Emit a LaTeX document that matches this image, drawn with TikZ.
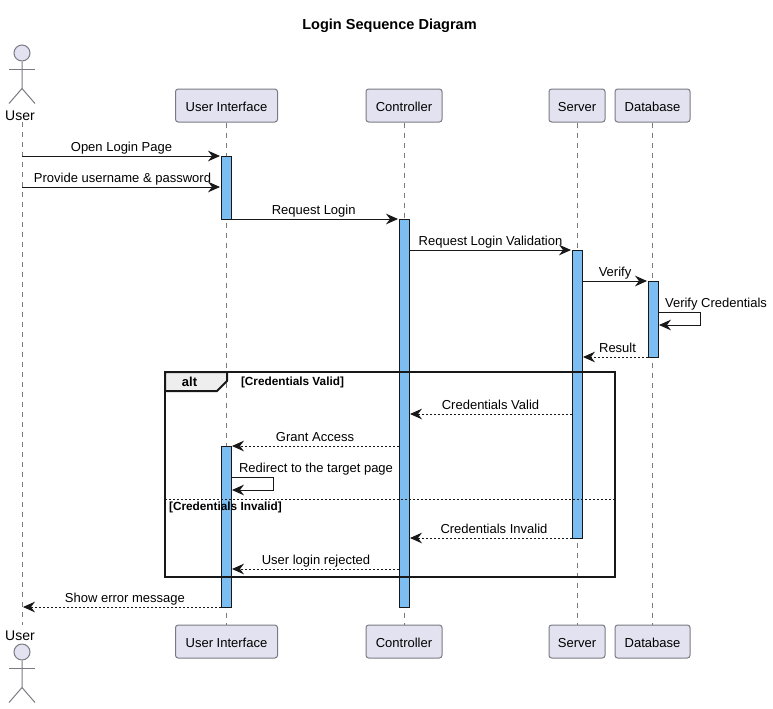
\documentclass[tikz,border=0pt]{standalone}
\usepackage{fontspec}
\setmainfont{Liberation Sans}
\usetikzlibrary{arrows.meta,positioning}

\definecolor{partfill}{HTML}{E2E2F0}
\definecolor{partline}{HTML}{7A7A84}
\definecolor{barfill}{HTML}{7CBEF2}
\definecolor{inkline}{HTML}{181818}
\definecolor{tabfill}{HTML}{EEEEEE}

\begin{document}
\begin{tikzpicture}[
    x=0.75pt, y=-0.75pt,
    participant/.style={draw=partline, fill=partfill, rectangle, rounded corners=2pt, line width=0.75pt,
      minimum height=24.75pt, inner sep=0pt, text height=9.5pt, text depth=1pt, font=\fontsize{9.75}{12}\selectfont},
    actorname/.style={inner sep=0pt, font=\fontsize{10.5}{12}\selectfont},
    head/.style={draw=partline, fill=partfill, circle, minimum size=12pt, inner sep=0pt, line width=0.75pt},
    limb/.style={draw=partline, line width=0.75pt},
    lifeline/.style={draw=partline, line width=0.75pt, dash pattern=on 3.75pt off 3.75pt},
    bar/.style={draw=inkline, fill=barfill, rectangle, line width=0.75pt, minimum width=7.5pt,
      minimum height=#1*0.75pt, inner sep=0pt, outer sep=0pt},
    arr/.style={-{Stealth[length=9pt, width=8pt, inset=3pt]}, draw=inkline, line width=0.75pt, shorten >=0.75pt},
    ret/.style={arr, dash pattern=on 1.5pt off 1.5pt},
    lbl/.style={font=\fontsize{9.75}{12}\selectfont, inner sep=0pt, anchor=base, yshift=3.75pt},
    frame/.style={draw=inkline, rectangle, line width=1.5pt, inner sep=0pt, outer sep=0pt},
    guard/.style={font=\bfseries\fontsize{8.85}{10}\selectfont, inner sep=0pt},
  ]
  \useasboundingbox (0,0) rectangle (773,708);

  % Title
  \node[font=\bfseries\fontsize{10.9}{12}\selectfont, inner sep=0pt] (title) at (389.5,26) {Login Sequence Diagram};

  % Participants, top row
  \node[actorname] (userTop) at (20,115.5) {User};
  \node[participant, minimum width=76.5pt] (uiTop) at (226.5,105.5) {User Interface};
  \node[participant, minimum width=57pt] (ctrlTop) at (404,105.5) {Controller};
  \node[participant, minimum width=42pt] (srvTop) at (577,105.5) {Server};
  \node[participant, minimum width=56.25pt] (dbTop) at (652.5,105.5) {Database};

  % Participants, bottom row
  \node[actorname] (userBot) at (20,635.5) {User};
  \node[participant, minimum width=76.5pt] (uiBot) at (226.5,641.5) {User Interface};
  \node[participant, minimum width=57pt] (ctrlBot) at (404,641.5) {Controller};
  \node[participant, minimum width=42pt] (srvBot) at (577,641.5) {Server};
  \node[participant, minimum width=56.25pt] (dbBot) at (652.5,641.5) {Database};

  % Actor figures
  \node[head] (headTop) at (22,53) {};
  \draw[limb] (headTop.south) -- ++(0,27) coordinate (hipTop) -- ++(-13,15);
  \draw[limb] (hipTop) -- ++(13,15);
  \draw[limb] ([yshift=-6pt]headTop.south) ++(-13,0) -- ++(26,0);
  \node[head] (headBot) at (22,652) {};
  \draw[limb] (headBot.south) -- ++(0,27) coordinate (hipBot) -- ++(-13,15);
  \draw[limb] (hipBot) -- ++(13,15);
  \draw[limb] ([yshift=-6pt]headBot.south) ++(-13,0) -- ++(26,0);

  % Lifelines
  \coordinate (userStart) at (22,122);
  \coordinate (userEnd) at (22,625);
  \draw[lifeline] (userStart) -- (userEnd);
  \draw[lifeline] (uiTop) -- (uiBot);
  \draw[lifeline] (ctrlTop) -- (ctrlBot);
  \draw[lifeline] (srvTop) -- (srvBot);
  \draw[lifeline] (dbTop) -- (dbBot);

  % Activation bars
  \node[bar=63] (uiBarA) at (226,187.5) {};
  \node[bar=161] (uiBarB) at (226,526.5) {};
  \node[bar=388] (ctrlBar) at (404,413) {};
  \node[bar=288] (srvBar) at (577,394) {};
  \node[bar=76] (dbBar) at (653,319) {};

  % alt frame over the bars
  \node[frame, minimum width=337.5pt, minimum height=153.75pt] (altFrame) at (390,474.5) {};
  \draw[frame, fill=tabfill] (altFrame.north west) -- ++(62,0) -- ++(0,9) -- ++(-10,10) -- ++(-52,0) -- cycle;
  \node[font=\bfseries\fontsize{9.75}{12}\selectfont, inner sep=0pt] (altTag) at (189.5,382) {alt};
  \node[guard] (guardValid) at (292.5,382.5) {[Credentials Valid]};
  \coordinate (rowElse) at (0,499);
  \draw[draw=inkline, line width=0.75pt, dash pattern=on 1.5pt off 1.5pt] (altFrame.west |- rowElse) -- (altFrame.east |- rowElse);
  \node[guard] (guardInvalid) at (225.5,507.5) {[Credentials Invalid]};

  % Row heights of the messages
  \coordinate (rowA) at (0,156);
  \coordinate (rowB) at (0,187);
  \coordinate (rowC) at (0,219);
  \coordinate (rowD) at (0,250);
  \coordinate (rowE) at (0,281);
  \coordinate (rowF) at (0,312);
  \coordinate (rowG) at (0,357);
  \coordinate (rowH) at (0,414);
  \coordinate (rowI) at (0,446);
  \coordinate (rowJ) at (0,477);
  \coordinate (rowK) at (0,538);
  \coordinate (rowL) at (0,569);
  \coordinate (rowM) at (0,607);

  % User -> User Interface
  \draw[arr] (userStart |- rowA) -- coordinate[midway] (msgA) (uiBarA.west |- rowA);
  \node[lbl] (lblA) at (msgA) {Open Login Page};
  \draw[arr] (userStart |- rowB) -- coordinate[midway] (msgB) (uiBarA.west |- rowB);
  \node[lbl, xshift=0.75pt] (lblB) at (msgB) {Provide username \& password};

  % Requests going right
  \draw[arr] (uiBarA.east |- rowC) -- coordinate[midway] (msgC) (ctrlBar.west |- rowC);
  \node[lbl, xshift=-1pt] (lblC) at (msgC) {Request Login};
  \draw[arr] (ctrlBar.east |- rowD) -- coordinate[midway] (msgD) (srvBar.west |- rowD);
  \node[lbl] (lblD) at (msgD) {Request Login Validation};
  \draw[arr] (srvBar.east |- rowE) -- coordinate[midway] (msgE) (dbBar.west |- rowE);
  \node[lbl] (lblE) at (msgE) {Verify};

  % Database self call
  \draw[arr] (dbBar.east |- rowF) -- ++(42,0) -- ++(0,13) -- (dbBar.east |- 0,325);
  \node[lbl] (lblF) at (716,312.5) {Verify Credentials};

  \draw[ret] (dbBar.west |- rowG) -- coordinate[midway] (msgG) (srvBar.east |- rowG);
  \node[lbl, xshift=1.9pt] (lblG) at (msgG) {Result};

  % Valid branch
  \draw[ret] (srvBar.west |- rowH) -- coordinate[midway] (msgH) (ctrlBar.east |- rowH);
  \node[lbl] (lblH) at (msgH) {Credentials Valid};
  \draw[ret] (ctrlBar.west |- rowI) -- coordinate[midway] (msgI) (uiBarB.east |- rowI);
  \node[lbl] (lblI) at (msgI) {Grant Access};
  \draw[arr] (uiBarB.east |- rowJ) -- ++(42,0) -- ++(0,13) -- (uiBarB.east |- 0,490);
  \node[lbl] (lblJ) at (316,477) {Redirect to the target page};

  % Invalid branch
  \draw[ret] (srvBar.west |- rowK) -- coordinate[midway] (msgK) (ctrlBar.east |- rowK);
  \node[lbl, xshift=2.6pt] (lblK) at (msgK) {Credentials Invalid};
  \draw[ret] (ctrlBar.west |- rowL) -- coordinate[midway] (msgL) (uiBarB.east |- rowL);
  \node[lbl, xshift=0.75pt] (lblL) at (msgL) {User login rejected};

  \draw[ret] (uiBarB.west |- rowM) -- coordinate[midway] (msgM) (userStart |- rowM);
  \node[lbl, xshift=2.6pt] (lblM) at (msgM) {Show error message};
\end{tikzpicture}
\end{document}
